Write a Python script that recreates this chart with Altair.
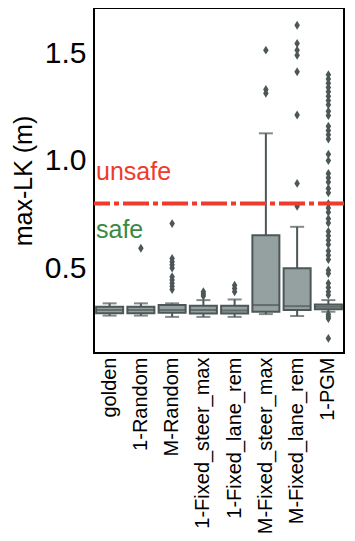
import altair as alt
import pandas as pd

categories = ["golden", "1-Random", "M-Random", "1-Fixed_steer_max", "1-Fixed_lane_rem",
              "M-Fixed_steer_max", "M-Fixed_lane_rem", "1-PGM"]
q1 = [0.290, 0.290, 0.292, 0.289, 0.289, 0.297, 0.305, 0.308]
median = [0.305, 0.305, 0.305, 0.305, 0.303, 0.328, 0.323, 0.320]
q3 = [0.320, 0.320, 0.328, 0.325, 0.325, 0.653, 0.499, 0.331]
whisker_low = [0.279, 0.279, 0.273, 0.273, 0.273, 0.286, 0.277, 0.297]
whisker_high = [0.336, 0.336, 0.336, 0.351, 0.354, 1.127, 0.692, 0.351]
outliers = [
    [],
    [0.592],
    [0.707, 0.545, 0.53, 0.515, 0.50, 0.46, 0.445, 0.43, 0.415, 0.40],
    [0.39, 0.38, 0.37],
    [0.42, 0.405, 0.39],
    [1.514, 1.331, 1.313],
    [1.63, 1.545, 1.514, 1.49, 1.413, 1.212, 0.894, 0.788],
    [1.40, 1.38, 1.36, 1.34, 1.32, 1.30, 1.28, 1.26, 1.23, 1.21, 1.16, 1.14, 1.12, 1.10,
     1.03, 1.00, 0.94, 0.92, 0.90, 0.87, 0.85, 0.80, 0.78, 0.76, 0.73, 0.71, 0.67, 0.65,
     0.63, 0.61, 0.58, 0.56, 0.54, 0.49, 0.475, 0.43, 0.41, 0.39, 0.375, 0.285, 0.275,
     0.265, 0.173],
]
threshold = 0.8
unsafe_y = 0.909
safe_y = 0.64

box_df = pd.DataFrame({"cat": categories, "q1": q1, "median": median, "q3": q3,
                       "lo": whisker_low, "hi": whisker_high})
out_df = pd.DataFrame([{"cat": c, "v": v} for c, vals in zip(categories, outliers) for v in vals])

EDGE = "#4d5757"
FILL = "#95a0a0"
FONT = "Liberation Sans"

x_enc = alt.X("cat:N", sort=categories, title=None,
              scale=alt.Scale(paddingInner=0, paddingOuter=0),
              axis=alt.Axis(labelAngle=-90, labelFontSize=20, labelPadding=4, ticks=False,
                            domain=False, labelColor="black", labelFont=FONT))
y_scale = alt.Scale(domain=[0.105, 1.71], nice=False, zero=False)
y_axis = alt.Axis(values=[0.5, 1.0, 1.5], format=".1f", grid=False, ticks=False, domain=False,
                  labelFontSize=30, labelPadding=8, labelColor="black", labelFont=FONT,
                  title="max-LK (m)", titleFontSize=25, titleFontWeight="normal",
                  titleColor="black", titleFont=FONT, titlePadding=8)

base = alt.Chart(box_df)
whisk = base.mark_rule(color=EDGE, strokeWidth=2).encode(
    x=x_enc, y=alt.Y("lo:Q", scale=y_scale, axis=y_axis), y2="hi:Q")
cap_lo = base.mark_tick(color=EDGE, size=14, thickness=2).encode(x=x_enc, y=alt.Y("lo:Q"))
cap_hi = base.mark_tick(color=EDGE, size=14, thickness=2).encode(x=x_enc, y=alt.Y("hi:Q"))
box = base.mark_bar(fill=FILL, stroke=EDGE, strokeWidth=2, size=27).encode(
    x=x_enc, y=alt.Y("q1:Q"), y2="q3:Q")
med = base.mark_tick(color=EDGE, size=27, thickness=2).encode(x=x_enc, y=alt.Y("median:Q"))
pts = alt.Chart(out_df).mark_point(
    shape="M0,-1L0.62,0L0,1L-0.62,0Z", filled=True, color=EDGE, opacity=1, size=80
).encode(x=x_enc, y=alt.Y("v:Q"))

rule = alt.Chart(pd.DataFrame({"t": [threshold]})).mark_rule(
    color="#ee3b2c", strokeWidth=4, strokeDash=[26, 4, 5, 4]
).encode(y="t:Q")
unsafe = alt.Chart(pd.DataFrame({"y": [unsafe_y], "label": ["unsafe"]})).mark_text(
    align="left", baseline="alphabetic", fontSize=25, font=FONT, color="#ee3b2c"
).encode(x=alt.value(2), y="y:Q", text="label:N")
safe = alt.Chart(pd.DataFrame({"y": [safe_y], "label": ["safe"]})).mark_text(
    align="left", baseline="alphabetic", fontSize=25, font=FONT, color="#3a8a44"
).encode(x=alt.value(2), y="y:Q", text="label:N")

chart = alt.layer(whisk, cap_lo, cap_hi, box, med, pts, rule, unsafe, safe).properties(
    width=250, height=345,
    padding={"left": 3, "top": 0, "right": 0, "bottom": 0},
).configure_view(stroke="black", strokeWidth=2)

chart.save("out.html", embed_options={"renderer": "svg", "actions": False})
